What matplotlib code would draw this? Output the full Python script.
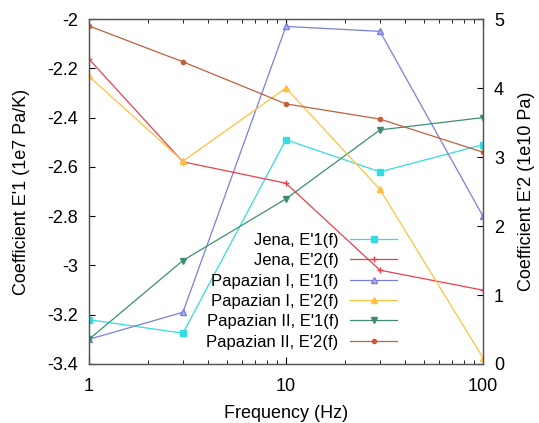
import matplotlib
matplotlib.use("Agg")
import matplotlib.pyplot as plt
from matplotlib.ticker import NullFormatter, LogLocator

plt.rcParams['font.family'] = ['Liberation Sans', 'DejaVu Sans']

freq = [1, 3, 10, 30, 100]
jena_e1 = [-3.22, -3.275, -2.49, -2.62, -2.51]
jena_e2 = [4.42, 2.93, 2.62, 1.36, 1.07]
pap1_e1 = [-3.30, -3.19, -2.03, -2.05, -2.80]
pap1_e2 = [4.17, 2.94, 4.00, 2.53, 0.09]
pap2_e1 = [-3.30, -2.98, -2.73, -2.45, -2.40]
pap2_e2 = [4.90, 4.38, 3.77, 3.55, 3.07]

labels = ["Jena, E'1(f)", "Jena, E'2(f)", "Papazian I, E'1(f)",
          "Papazian I, E'2(f)", "Papazian II, E'1(f)", "Papazian II, E'2(f)"]
left_ticks = [-3.4, -3.2, -3.0, -2.8, -2.6, -2.4, -2.2, -2.0]
left_ticklabels = ["-3.4", "-3.2", "-3", "-2.8", "-2.6", "-2.4", "-2.2", "-2"]
right_ticks = [0, 1, 2, 3, 4, 5]
x_ticks = [1, 10, 100]
x_ticklabels = ["1", "10", "100"]

fig = plt.figure(figsize=(5.39, 4.23), dpi=100)
ax = fig.add_axes([0.165, 0.1395, 0.731, 0.8155])
ax2 = ax.twinx()

lw = 0.9
h1, = ax.plot(freq, jena_e1, color='#33dde0', marker='s', ms=4, lw=lw)
h2, = ax2.plot(freq, jena_e2, color='#e8404e', marker='+', ms=5, lw=lw)
h3, = ax.plot(freq, pap1_e1, color='#7a7ee0', marker='^', ms=4, lw=lw, mfc='#b0b4f0')
h4, = ax2.plot(freq, pap1_e2, color='#ffc040', marker='^', ms=4, lw=lw)
h5, = ax.plot(freq, pap2_e1, color='#3f8f6f', marker='v', ms=4, lw=lw)
h6, = ax2.plot(freq, pap2_e2, color='#c0603e', marker='o', ms=3, lw=lw)

ax.set_xscale('log')
ax.set_xlim(1, 100)
ax.set_ylim(-3.4, -2.0)
ax2.set_ylim(0, 5)
ax.set_xticks(x_ticks)
ax.set_xticklabels(x_ticklabels)
ax.xaxis.set_minor_locator(LogLocator(base=10, subs=range(2, 10)))
ax.xaxis.set_minor_formatter(NullFormatter())
ax.set_yticks(left_ticks)
ax.set_yticklabels(left_ticklabels)
ax2.set_yticks(right_ticks)

fs = 13
ax.tick_params(axis='x', which='both', direction='in', top=True, labelsize=fs, pad=10)
ax.tick_params(axis='x', which='major', length=5)
ax.tick_params(axis='x', which='minor', length=3)
ax.tick_params(axis='y', direction='in', length=4, labelsize=fs, pad=8)
ax2.tick_params(axis='y', direction='in', length=4, labelsize=fs, pad=8)

for a in (ax, ax2):
    for s in a.spines.values():
        s.set_color('#555555')
        s.set_linewidth(0.9)

ax.set_xlabel('Frequency (Hz)', fontsize=fs, labelpad=7)
ax.set_ylabel("Coefficient E'1 (1e7 Pa/K)", fontsize=fs, labelpad=12)
ax2.set_ylabel("Coefficient E'2 (1e10 Pa)", fontsize=fs, labelpad=10)

leg = ax2.legend([h1, h2, h3, h4, h5, h6], labels, loc='upper right',
                 bbox_to_anchor=(0.782, 0.38), frameon=False, markerfirst=False,
                 fontsize=12, handlelength=2.8, labelspacing=0.32,
                 borderaxespad=0, borderpad=0, handletextpad=0.7)
leg._legend_box.align = 'right'
for t in leg.get_texts():
    t.set_ha('right')

fig.savefig('out.png', dpi=100)
